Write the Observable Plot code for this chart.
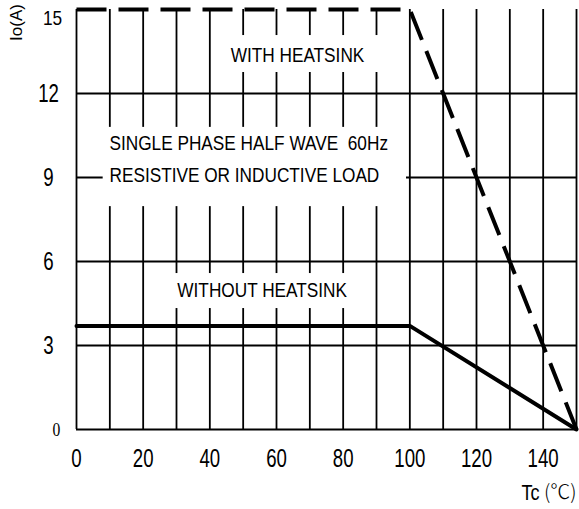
<!DOCTYPE html>
<html><head><meta charset="utf-8">
<script src="https://cdn.jsdelivr.net/npm/d3@7"></script>
<script src="https://cdn.jsdelivr.net/npm/@observablehq/plot@0.6"></script>
<style>body{margin:0;background:#fff}</style>
</head><body><div id="chart"></div>
<script>
// Data
const xGrid = [0,10,20,30,40,50,60,70,80,90,100,110,120,130,140,150];
const xTickLabels = [0,20,40,60,80,100,120,140];
const yGrid = [0,3,6,9,12];
const yTickLabels = [3,6,9,12];
const yTopLabel = [15];
const yZeroLabel = [0];
const withT = [0,100,150];
const withIo = [15,15,0];
const withoutT = [0,100,150];
const withoutIo = [3.7,3.7,0];

// Annotations (data coordinates)
const boxes = [
  {x1:44, x2:95, y1:12.75, y2:14.07},
  {x1:8, x2:99, y1:7.96, y2:10.79},
  {x1:28, x2:82.5, y1:4.32, y2:5.57}
];
const centeredNotes = [
  {t:"WITH HEATSINK", x:66.3, y:13.37},
  {t:"WITHOUT HEATSINK", x:55.7, y:4.96}
];
const leftNotes = [
  {t:"SINGLE PHASE HALF WAVE  60Hz", x:9.9, y:10.23},
  {t:"RESISTIVE OR INDUCTIVE LOAD", x:9.9, y:9.09}
];

const withData = withT.map((t,i)=>({t, io: withIo[i]}));
const withoutData = withoutT.map((t,i)=>({t, io: withoutIo[i]}));

const SANS = "'Liberation Sans', Arial, sans-serif";
const txt = {fontFamily: SANS, fontSize: 21, fill: "black", className: "n82"};
const dig = {fontFamily: SANS, fontSize: 25.5, fill: "black", className: "n73"};

const chart = Plot.plot({
  width: 579,
  height: 509,
  marginLeft: 76,
  marginRight: 3,
  marginTop: 9,
  marginBottom: 80,
  x: {domain: [0,150], axis: null},
  y: {domain: [0,15], axis: null},
  style: {background: "white"},
  marks: [
    Plot.ruleX(xGrid, {x: d => d, stroke: "black", strokeWidth: 1.8}),
    Plot.ruleY(yGrid, {y: d => d, stroke: "black", strokeWidth: 1.8}),
    Plot.rect(boxes, {x1:"x1", x2:"x2", y1:"y1", y2:"y2", fill: "white"}),
    Plot.line(withData, {x:"t", y:"io", stroke:"black", strokeWidth:4, strokeDasharray:"30,12", strokeLinecap:"butt"}),
    Plot.line(withoutData, {x:"t", y:"io", stroke:"black", strokeWidth:4}),
    Plot.text(centeredNotes, {x:"x", y:"y", text:"t", textAnchor:"middle", ...txt}),
    Plot.text(leftNotes, {x:"x", y:"y", text:"t", textAnchor:"start", ...txt}),
    // x tick labels
    Plot.text(xTickLabels, {x: d => d, frameAnchor: "bottom", lineAnchor: "middle", textAnchor: "middle", dy: 29, text: d => String(d), ...dig}),
    // y tick labels
    Plot.text(yTickLabels, {y: d => d, frameAnchor: "left", lineAnchor: "middle", textAnchor: "middle", dx: -28, text: d => String(d), ...dig}),
    Plot.text(yTopLabel, {y: d => d, frameAnchor: "left", lineAnchor: "middle", textAnchor: "middle", dx: -24, dy: 9, text: d => String(d), ...txt}),
    Plot.text(yZeroLabel, {y: d => d, frameAnchor: "left", lineAnchor: "middle", textAnchor: "middle", dx: -20, text: d => String(d), fontFamily: "'Liberation Serif', serif", fontSize: 19, fill: "black", className: "n82"}),
    // axis titles
    Plot.text(["Io(A)"], {frameAnchor: "top-left", lineAnchor: "middle", textAnchor: "middle", dx: -60, dy: 13, rotate: -90, text: d => d, fontFamily: SANS, fontSize: 17, fill: "black"}),
    Plot.text(["Tc"], {frameAnchor: "bottom-right", lineAnchor: "middle", textAnchor: "end", dy: 63, dx: -37, text: d => d, fontFamily: SANS, fontSize: 22, fill: "black", className: "n82"}),
    Plot.text(["(℃)"], {frameAnchor: "bottom-right", lineAnchor: "middle", textAnchor: "end", dy: 63, dx: 0, text: d => d, fontFamily: "'Noto Sans CJK SC', sans-serif", fontSize: 20, fill: "black", fontWeight: 300})
  ]
});
document.getElementById("chart").appendChild(chart);
function narrow(sel, k) {
  chart.querySelectorAll(sel + " text").forEach(t => {
    const L = t.getComputedTextLength();
    t.setAttribute("textLength", (L * k).toFixed(1));
    t.setAttribute("lengthAdjust", "spacingAndGlyphs");
  });
}
narrow(".n82", 0.82);
narrow(".n73", 0.73);
</script>
</body></html>
